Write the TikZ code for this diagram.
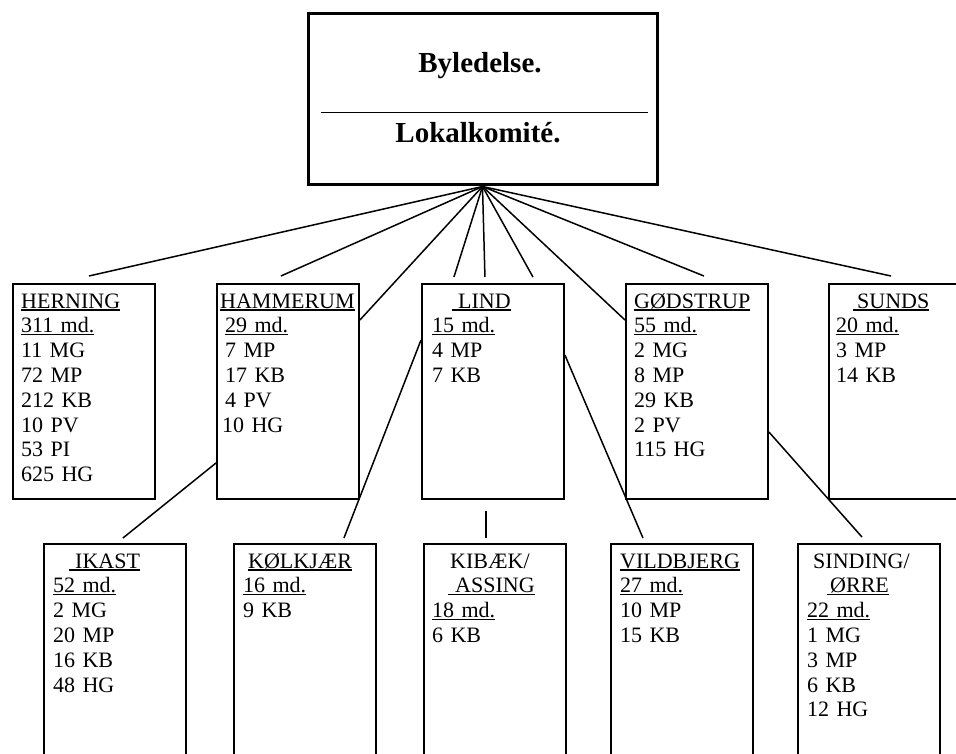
\documentclass[tikz,border=0pt]{standalone}
\usepackage{fontspec}
\setmainfont{Liberation Serif}
\usepackage{tikz}
\newsavebox\ulbox
\newcommand\ulin[1]{\leavevmode\sbox\ulbox{#1}\rlap{\rule[-2.6pt]{\wd\ulbox}{1.2pt}}\usebox\ulbox}

\begin{document}
\begin{tikzpicture}[x=1pt,y=-1pt]
		\tikzstyle{Unit}=[draw,line width=1.9pt,minimum width=142pt,minimum height=215pt,anchor=north west,inner sep=0pt]
		\tikzstyle{Tally}=[anchor=base west,inner sep=0pt,text width=132pt,align=left,font=\fontsize{22}{24.8}\selectfont]
		\tikzstyle{Link}=[line width=1.5pt]
		\useasboundingbox (0,0) rectangle (956,754);
		\clip (0,0) rectangle (956,754);

		% ledelse
		\node[draw,line width=3pt,minimum width=349pt,minimum height=171pt,inner sep=0pt] (top) at (482.5,99.5) {};
		\draw[line width=1.5pt] ([xshift=14pt,yshift=-100pt]top.north west) -- ([xshift=-11pt,yshift=-100pt]top.north east);
		\node[anchor=base,inner sep=0pt,font=\fontsize{29}{32}\selectfont\bfseries] (by) at (480,73) {Byledelse.};
		\node[anchor=base,inner sep=0pt,font=\fontsize{29}{32}\selectfont\bfseries] (lk) at (478,143) {Lokalkomité.};

		% first row
		\node[Unit] (herning) at (12,283) {};
		\node[Unit] (hammerum) at (216,283) {};
		\node[Unit] (lind) at (421,283) {};
		\node[Unit] (godstrup) at (625,283) {};
		\node[Unit] (sunds) at (828,283) {};

		% second row
		\node[Unit] (ikast) at (43,543) {};
		\node[Unit] (kolkjaer) at (233,543) {};
		\node[Unit] (kibaek) at (423,543) {};
		\node[Unit] (vildbjerg) at (610,543) {};
		\node[Unit] (sinding) at (797,543) {};

		% tal
		\node[Tally] (herning-t) at ([xshift=9pt,yshift=-25pt]herning.north west)
			{\ulin{HERNING}\\ \ulin{311 md.}\\ 11 MG\\ 72 MP\\ 212 KB\\ 10 PV\\ 53 PI\\ 625 HG};
		\node[Tally] (hammerum-t) at ([xshift=9pt,yshift=-25pt]hammerum.north west)
			{\hspace*{-5pt}\ulin{HAMMERUM}\\ \ulin{29 md.}\\ 7 MP\\ 17 KB\\ 4 PV\\ \hspace*{-3pt}10 HG};
		\node[Tally] (lind-t) at ([xshift=11pt,yshift=-25pt]lind.north west)
			{\hspace*{20pt}\ulin{\hspace*{6pt}LIND}\\ \ulin{15 md.}\\ 4 MP\\ 7 KB};
		\node[Tally] (godstrup-t) at ([xshift=9pt,yshift=-25pt]godstrup.north west)
			{\ulin{GØDSTRUP}\\ \ulin{55 md.}\\ 2 MG\\ 8 MP\\ 29 KB\\ 2 PV\\ 115 HG};
		\node[Tally] (sunds-t) at ([xshift=8pt,yshift=-25pt]sunds.north west)
			{\hspace*{17pt}\ulin{\hspace*{4pt}SUNDS}\\ \ulin{20 md.}\\ 3 MP\\ 14 KB};
		\node[Tally] (ikast-t) at ([xshift=10pt,yshift=-25pt]ikast.north west)
			{\hspace*{16pt}\ulin{\hspace*{6pt}IKAST}\\ \ulin{52 md.}\\ 2 MG\\ 20 MP\\ 16 KB\\ 48 HG};
		\node[Tally] (kolkjaer-t) at ([xshift=10pt,yshift=-25pt]kolkjaer.north west)
			{\hspace*{5pt}\ulin{KØLKJÆR}\\ \ulin{16 md.}\\ 9 KB};
		\node[Tally] (kibaek-t) at ([xshift=9pt,yshift=-25pt]kibaek.north west)
			{\hspace*{18pt}KIBÆK/\\ \hspace*{16pt}\ulin{\hspace*{7pt}ASSING}\\ \ulin{18 md.}\\ 6 KB};
		\node[Tally] (vildbjerg-t) at ([xshift=10pt,yshift=-25pt]vildbjerg.north west)
			{\ulin{VILDBJERG}\\ \ulin{27 md.}\\ 10 MP\\ 15 KB};
		\node[Tally] (sinding-t) at ([xshift=10pt,yshift=-25pt]sinding.north west)
			{\hspace*{6pt}SINDING/\\ \hspace*{20pt}\ulin{\hspace*{3pt}ØRRE}\\ \ulin{22 md.}\\ 1 MG\\ 3 MP\\ 6 KB\\ 12 HG};

		% forbindelser
		\draw[Link] (top.south) -- ([xshift=5pt,yshift=7pt]herning.north);
		\draw[Link] (top.south) -- ([xshift=-7pt,yshift=7pt]hammerum.north);
		\draw[Link] (top.south) -- ([yshift=-37pt]hammerum.north east);
		\draw[Link] (top.south) -- ([xshift=-39pt,yshift=6pt]lind.north);
		\draw[Link] (top.south) -- ([xshift=-8pt,yshift=6pt]lind.north);
		\draw[Link] (top.south) -- ([xshift=40pt,yshift=6pt]lind.north);
		\draw[Link] (top.south) -- ([yshift=-37pt]godstrup.north west);
		\draw[Link] (top.south) -- ([xshift=7pt,yshift=7pt]godstrup.north);
		\draw[Link] (top.south) -- ([xshift=-9pt,yshift=7pt]sunds.north);

		\draw[Link] ([yshift=-180pt]hammerum.north west) -- ([xshift=8pt,yshift=5pt]ikast.north);
		\draw[Link] ([yshift=-57pt]lind.north west) -- ([xshift=39pt,yshift=5pt]kolkjaer.north);
		\draw[Link] ([xshift=-7pt,yshift=-11pt]lind.south) -- ([xshift=-9pt,yshift=5pt]kibaek.north);
		\draw[Link] ([yshift=-72pt]lind.north east) -- ([xshift=-39pt,yshift=5pt]vildbjerg.north);
		\draw[Link] ([yshift=-149pt]godstrup.north east) -- ([xshift=-7pt,yshift=6pt]sinding.north);
	\end{tikzpicture}
\end{document}
